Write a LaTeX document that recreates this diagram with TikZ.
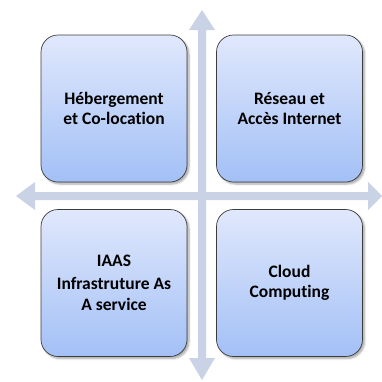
\documentclass[tikz,border=0pt]{standalone}
\usepackage{fontspec}
\setmainfont{Carlito}[Ligatures=CommonOff]
\usetikzlibrary{shadows.blur}
\definecolor{arrowc}{RGB}{201,211,229}
\definecolor{boxtop}{RGB}{224,232,252}
\definecolor{boxbot}{RGB}{163,192,246}
\definecolor{boxline}{RGB}{60,60,60}
\tikzset{
  quad/.style={draw=boxline, line width=0.7pt, rounded corners=17pt,
    top color=boxtop, bottom color=boxbot, minimum width=146pt, minimum height=147pt,
    inner sep=0pt, align=center, font=\bfseries\fontsize{17.5}{20.5}\selectfont,
    blur shadow={shadow xshift=2pt, shadow yshift=-2pt, shadow blur steps=6, shadow opacity=35}},
  axisarrow/.style={fill=arrowc, draw=none}
}
\begin{document}
\begin{tikzpicture}[x=1pt,y=-1pt]
\useasboundingbox (0,0) rectangle (382,381);
% axes
\fill[axisarrow] (202,10) -- (215,30) -- (206,30) -- (206,358) -- (215,358) -- (202,380)
  -- (189,358) -- (198,358) -- (198,30) -- (189,30) -- cycle;
\fill[axisarrow] (16,196) -- (35,182) -- (35,192) -- (368,192) -- (368,182) -- (382,196)
  -- (368,210) -- (368,200) -- (35,200) -- (35,210) -- cycle;
% boxes
\node[quad] (heb) at (114,108.5) {Hébergement\\et Co-location};
\node[quad] (res) at (289.5,108.5) {Réseau et\\Accès Internet};
\node[quad] (iaas) at (114,283) {IAAS\\[2.5pt]Infrastruture As\\A service};
\node[quad] (cloud) at (289.5,283) {Cloud\\Computing};
\end{tikzpicture}
\end{document}
